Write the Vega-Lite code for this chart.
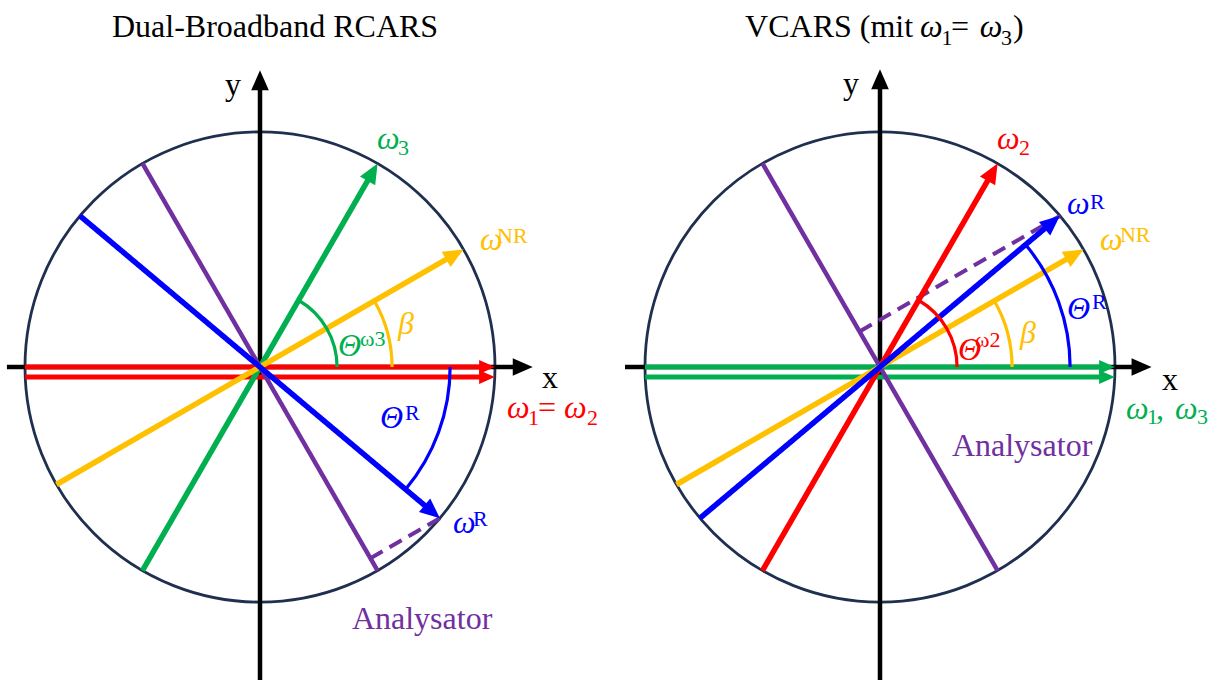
{
  "$schema": "https://vega.github.io/schema/vega-lite/v6.json",
  "padding": 0,
  "background": "white",
  "config": {"view": {"stroke": null}},
  "spacing": 26,
  "bounds": "flush",
  "data": {"values": [
    {"panel":"Dual-Broadband RCARS","kind":"arc","series":"Kreis","x":0,"y":0,"r":1,"a0":0,"a1":360},
    {"panel":"Dual-Broadband RCARS","kind":"arc","series":"ω3","x":0,"y":0,"r":0.328,"a0":0,"a1":60},
    {"panel":"Dual-Broadband RCARS","kind":"arc","series":"ωNR","x":0,"y":0,"r":0.562,"a0":0,"a1":30},
    {"panel":"Dual-Broadband RCARS","kind":"arc","series":"ωR","x":0,"y":0,"r":0.809,"a0":-40,"a1":0},
    {"panel":"VCARS (mit ω₁= ω₃)","kind":"arc","series":"Kreis","x":0,"y":0,"r":1,"a0":0,"a1":360},
    {"panel":"VCARS (mit ω₁= ω₃)","kind":"arc","series":"ω2","x":0,"y":0,"r":0.328,"a0":0,"a1":60},
    {"panel":"VCARS (mit ω₁= ω₃)","kind":"arc","series":"ωNR","x":0,"y":0,"r":0.562,"a0":0,"a1":30},
    {"panel":"VCARS (mit ω₁= ω₃)","kind":"arc","series":"ωR","x":0,"y":0,"r":0.809,"a0":0,"a1":40},

    {"panel":"Dual-Broadband RCARS","kind":"axis","series":"Achse","x":-1.077,"y":0,"x2":1.118,"y2":0,"dir":0},
    {"panel":"Dual-Broadband RCARS","kind":"axis","series":"Achse","x":0,"y":-1.4,"x2":0,"y2":1.22,"dir":90},
    {"panel":"Dual-Broadband RCARS","kind":"dash","series":"Analysator","x":0.47,"y":-0.814,"x2":0.766,"y2":-0.643},
    {"panel":"Dual-Broadband RCARS","kind":"vecp","series":"ω1= ω2","x":-1,"y":0,"x2":0.966,"y2":0,"dir":0},
    {"panel":"Dual-Broadband RCARS","kind":"vecp","series":"ω1= ω2","x":-0.999,"y":-0.043,"x2":0.966,"y2":-0.043,"dir":0},
    {"panel":"Dual-Broadband RCARS","kind":"vec","series":"ω3","x":-0.5,"y":-0.866,"x2":0.479,"y2":0.829,"dir":60},
    {"panel":"Dual-Broadband RCARS","kind":"vec","series":"ωNR","x":-0.866,"y":-0.5,"x2":0.829,"y2":0.479,"dir":30},
    {"panel":"Dual-Broadband RCARS","kind":"ana","series":"Analysator","x":-0.5,"y":0.866,"x2":0.5,"y2":-0.866},
    {"panel":"Dual-Broadband RCARS","kind":"vec","series":"ωR","x":-0.766,"y":0.643,"x2":0.733,"y2":-0.616,"dir":-40},

    {"panel":"VCARS (mit ω₁= ω₃)","kind":"axis","series":"Achse","x":-1.085,"y":0,"x2":1.113,"y2":0,"dir":0},
    {"panel":"VCARS (mit ω₁= ω₃)","kind":"axis","series":"Achse","x":0,"y":-1.4,"x2":0,"y2":1.224,"dir":90},
    {"panel":"VCARS (mit ω₁= ω₃)","kind":"dash","series":"Analysator","x":-0.087,"y":0.151,"x2":0.766,"y2":0.643},
    {"panel":"VCARS (mit ω₁= ω₃)","kind":"vecp","series":"ω1, ω3","x":-1,"y":0,"x2":0.966,"y2":0,"dir":0},
    {"panel":"VCARS (mit ω₁= ω₃)","kind":"vecp","series":"ω1, ω3","x":-0.999,"y":-0.043,"x2":0.966,"y2":-0.043,"dir":0},
    {"panel":"VCARS (mit ω₁= ω₃)","kind":"vec","series":"ω2","x":-0.5,"y":-0.866,"x2":0.479,"y2":0.829,"dir":60},
    {"panel":"VCARS (mit ω₁= ω₃)","kind":"ana","series":"Analysator","x":-0.5,"y":0.866,"x2":0.5,"y2":-0.866},
    {"panel":"VCARS (mit ω₁= ω₃)","kind":"vec","series":"ωNR","x":-0.866,"y":-0.5,"x2":0.829,"y2":0.479,"dir":30},
    {"panel":"VCARS (mit ω₁= ω₃)","kind":"vec","series":"ωR","x":-0.766,"y":-0.643,"x2":0.733,"y2":0.616,"dir":40},

    {"panel":"Dual-Broadband RCARS","kind":"up","series":"Titel","txt":"Dual-Broadband RCARS","x":-0.63,"y":1.404},
    {"panel":"Dual-Broadband RCARS","kind":"it","series":"ω3","txt":"ω","x":0.498,"y":0.928},
    {"panel":"Dual-Broadband RCARS","kind":"sm","series":"ω3","txt":"3","x":0.587,"y":0.902},
    {"panel":"Dual-Broadband RCARS","kind":"it","series":"ωNR","txt":"ω","x":0.936,"y":0.498},
    {"panel":"Dual-Broadband RCARS","kind":"sm","series":"ωNR","txt":"NR","x":1.009,"y":0.528},
    {"panel":"Dual-Broadband RCARS","kind":"it","series":"ω3","txt":"Θ","x":0.332,"y":0.047},
    {"panel":"Dual-Broadband RCARS","kind":"sm","series":"ω3","txt":"ω3","x":0.426,"y":0.089},
    {"panel":"Dual-Broadband RCARS","kind":"it","series":"ωNR","txt":"β","x":0.587,"y":0.14},
    {"panel":"Dual-Broadband RCARS","kind":"it","series":"ωR","txt":"Θ","x":0.511,"y":-0.26},
    {"panel":"Dual-Broadband RCARS","kind":"sm","series":"ωR","txt":"R","x":0.617,"y":-0.226},
    {"panel":"Dual-Broadband RCARS","kind":"it","series":"ω1= ω2","txt":"ω","x":1.051,"y":-0.217},
    {"panel":"Dual-Broadband RCARS","kind":"sm","series":"ω1= ω2","txt":"1","x":1.14,"y":-0.247},
    {"panel":"Dual-Broadband RCARS","kind":"up","series":"ω1= ω2","txt":"=","x":1.183,"y":-0.217},
    {"panel":"Dual-Broadband RCARS","kind":"it","series":"ω1= ω2","txt":"ω","x":1.294,"y":-0.217},
    {"panel":"Dual-Broadband RCARS","kind":"sm","series":"ω1= ω2","txt":"2","x":1.391,"y":-0.247},
    {"panel":"Dual-Broadband RCARS","kind":"it","series":"ωR","txt":"ω","x":0.821,"y":-0.706},
    {"panel":"Dual-Broadband RCARS","kind":"sm","series":"ωR","txt":"R","x":0.906,"y":-0.677},
    {"panel":"Dual-Broadband RCARS","kind":"up","series":"Analysator","txt":"Analysator","x":0.391,"y":-1.115},
    {"panel":"Dual-Broadband RCARS","kind":"up","series":"Achse","txt":"x","x":1.2,"y":-0.089},
    {"panel":"Dual-Broadband RCARS","kind":"up","series":"Achse","txt":"y","x":-0.149,"y":1.157},

    {"panel":"VCARS (mit ω₁= ω₃)","kind":"up","series":"Titel","txt":"VCARS (mit","x":-0.574,"y":1.404},
    {"panel":"VCARS (mit ω₁= ω₃)","kind":"it","series":"Titel","txt":"ω","x":0.17,"y":1.404},
    {"panel":"VCARS (mit ω₁= ω₃)","kind":"sm","series":"Titel","txt":"1","x":0.262,"y":1.37},
    {"panel":"VCARS (mit ω₁= ω₃)","kind":"up","series":"Titel","txt":"=","x":0.302,"y":1.404},
    {"panel":"VCARS (mit ω₁= ω₃)","kind":"it","series":"Titel","txt":"ω","x":0.425,"y":1.404},
    {"panel":"VCARS (mit ω₁= ω₃)","kind":"sm","series":"Titel","txt":"3","x":0.515,"y":1.37},
    {"panel":"VCARS (mit ω₁= ω₃)","kind":"up","series":"Titel","txt":")","x":0.566,"y":1.404},
    {"panel":"VCARS (mit ω₁= ω₃)","kind":"it","series":"ω2","txt":"ω","x":0.498,"y":0.928},
    {"panel":"VCARS (mit ω₁= ω₃)","kind":"sm","series":"ω2","txt":"2","x":0.591,"y":0.902},
    {"panel":"VCARS (mit ω₁= ω₃)","kind":"it","series":"ωR","txt":"ω","x":0.796,"y":0.651},
    {"panel":"VCARS (mit ω₁= ω₃)","kind":"sm","series":"ωR","txt":"R","x":0.894,"y":0.672},
    {"panel":"VCARS (mit ω₁= ω₃)","kind":"it","series":"ωNR","txt":"ω","x":0.936,"y":0.498},
    {"panel":"VCARS (mit ω₁= ω₃)","kind":"sm","series":"ωNR","txt":"NR","x":1.021,"y":0.532},
    {"panel":"VCARS (mit ω₁= ω₃)","kind":"it","series":"ωR","txt":"Θ","x":0.796,"y":0.204},
    {"panel":"VCARS (mit ω₁= ω₃)","kind":"sm","series":"ωR","txt":"R","x":0.902,"y":0.247},
    {"panel":"VCARS (mit ω₁= ω₃)","kind":"it","series":"ωNR","txt":"β","x":0.596,"y":0.102},
    {"panel":"VCARS (mit ω₁= ω₃)","kind":"it","series":"ω2","txt":"Θ","x":0.332,"y":0.03},
    {"panel":"VCARS (mit ω₁= ω₃)","kind":"sm","series":"ω2","txt":"ω2","x":0.404,"y":0.085},
    {"panel":"VCARS (mit ω₁= ω₃)","kind":"up","series":"Analysator","txt":"Analysator","x":0.306,"y":-0.379},
    {"panel":"VCARS (mit ω₁= ω₃)","kind":"it","series":"ω1, ω3","txt":"ω","x":1.047,"y":-0.221},
    {"panel":"VCARS (mit ω₁= ω₃)","kind":"sm","series":"ω1, ω3","txt":"1","x":1.136,"y":-0.241},
    {"panel":"VCARS (mit ω₁= ω₃)","kind":"up","series":"ω1, ω3","txt":",","x":1.174,"y":-0.221},
    {"panel":"VCARS (mit ω₁= ω₃)","kind":"it","series":"ω1, ω3","txt":"ω","x":1.255,"y":-0.221},
    {"panel":"VCARS (mit ω₁= ω₃)","kind":"sm","series":"ω1, ω3","txt":"3","x":1.349,"y":-0.241},
    {"panel":"VCARS (mit ω₁= ω₃)","kind":"up","series":"Achse","txt":"x","x":1.2,"y":-0.098},
    {"panel":"VCARS (mit ω₁= ω₃)","kind":"up","series":"Achse","txt":"y","x":-0.157,"y":1.162}
  ]},
  "facet": {
    "column": {
      "field": "panel", "type": "nominal", "sort": ["Dual-Broadband RCARS", "VCARS (mit ω₁= ω₃)"],
      "header": {"title": null, "labels": false}
    }
  },
  "spec": {
    "width": 594,
    "height": 680,
    "layer": [
      {
        "transform": [{"filter": "datum.kind == 'arc' && datum.series == 'Kreis'"}],
        "mark": {"type": "arc", "filled": false, "strokeWidth": 2.8},
        "encoding": {
          "x": {"field": "x", "type": "quantitative", "scale": {"domain": [-1.1064, 1.4213], "nice": false, "zero": false}, "axis": null},
          "y": {"field": "y", "type": "quantitative", "scale": {"domain": [-1.3319, 1.5617], "nice": false, "zero": false}, "axis": null},
          "theta": {"field": "a0", "type": "quantitative", "stack": null, "scale": {"domain": [0, 90], "range": [1.5707963, 0], "zero": false, "nice": false}},
          "theta2": {"field": "a1"},
          "radius": {"field": "r", "type": "quantitative", "scale": {"type": "linear", "domain": [0, 1], "range": [0, 235], "zero": true, "nice": false}},
          "radius2": {"field": "r"},
          "stroke": {"field": "series", "type": "nominal", "legend": null, "scale": {"domain": ["ω1= ω2", "ω2", "ω1, ω3", "ω3", "ωNR", "ωR", "Analysator", "Achse", "Kreis", "Titel"], "range": ["#FF0000", "#FF0000", "#00B050", "#00B050", "#FFC000", "#0000FF", "#7030A0", "#000000", "#1F2F4F", "#000000"]}}
        }
      },
      {
        "transform": [{"filter": "datum.kind == 'axis' || datum.kind == 'dash' || datum.kind == 'ana' || datum.kind == 'vec' || datum.kind == 'vecp'"}],
        "mark": {"type": "rule", "strokeCap": "butt"},
        "encoding": {
          "x": {"field": "x", "type": "quantitative", "scale": {"domain": [-1.1064, 1.4213], "nice": false, "zero": false}, "axis": null},
          "y": {"field": "y", "type": "quantitative", "scale": {"domain": [-1.3319, 1.5617], "nice": false, "zero": false}, "axis": null},
          "x2": {"field": "x2"},
          "y2": {"field": "y2"},
          "strokeWidth": {"field": "kind", "type": "nominal", "legend": null, "scale": {"type": "ordinal", "domain": ["axis", "dash", "ana", "vec", "vecp"], "range": [4.5, 4, 4.5, 5.5, 5]}},
          "strokeDash": {"field": "kind", "type": "nominal", "legend": null, "scale": {"type": "ordinal", "domain": ["axis", "dash", "ana", "vec", "vecp"], "range": [[1, 0], [14, 8], [1, 0], [1, 0], [1, 0]]}},
          "color": {"field": "series", "type": "nominal", "legend": null, "scale": {"domain": ["ω1= ω2", "ω2", "ω1, ω3", "ω3", "ωNR", "ωR", "Analysator", "Achse", "Kreis", "Titel"], "range": ["#FF0000", "#FF0000", "#00B050", "#00B050", "#FFC000", "#0000FF", "#7030A0", "#000000", "#1F2F4F", "#000000"]}}
        }
      },
      {
        "transform": [{"filter": "datum.kind == 'axis' || datum.kind == 'vec' || datum.kind == 'vecp'"}],
        "mark": {"type": "point", "shape": "M0,-0.5L0.44,0.5L-0.44,0.5Z", "filled": true, "opacity": 1, "strokeWidth": 0},
        "encoding": {
          "x": {"field": "x2", "type": "quantitative", "scale": {"domain": [-1.1064, 1.4213], "nice": false, "zero": false}, "axis": null},
          "y": {"field": "y2", "type": "quantitative", "scale": {"domain": [-1.3319, 1.5617], "nice": false, "zero": false}, "axis": null},
          "angle": {"field": "dir", "type": "quantitative", "scale": {"domain": [0, 90], "range": [90, 0], "zero": false, "nice": false}},
          "size": {"field": "kind", "type": "nominal", "legend": null, "scale": {"type": "ordinal", "domain": ["axis", "vec", "vecp"], "range": [1600, 1600, 1000]}},
          "color": {"field": "series", "type": "nominal", "legend": null, "scale": {"domain": ["ω1= ω2", "ω2", "ω1, ω3", "ω3", "ωNR", "ωR", "Analysator", "Achse", "Kreis", "Titel"], "range": ["#FF0000", "#FF0000", "#00B050", "#00B050", "#FFC000", "#0000FF", "#7030A0", "#000000", "#1F2F4F", "#000000"]}}
        }
      },
      {
        "transform": [{"filter": "datum.kind == 'arc' && datum.series != 'Kreis'"}],
        "mark": {"type": "arc", "filled": false, "strokeWidth": 3.2},
        "encoding": {
          "x": {"field": "x", "type": "quantitative", "scale": {"domain": [-1.1064, 1.4213], "nice": false, "zero": false}, "axis": null},
          "y": {"field": "y", "type": "quantitative", "scale": {"domain": [-1.3319, 1.5617], "nice": false, "zero": false}, "axis": null},
          "theta": {"field": "a0", "type": "quantitative", "stack": null, "scale": {"domain": [0, 90], "range": [1.5707963, 0], "zero": false, "nice": false}},
          "theta2": {"field": "a1"},
          "radius": {"field": "r", "type": "quantitative", "scale": {"type": "linear", "domain": [0, 1], "range": [0, 235], "zero": true, "nice": false}},
          "radius2": {"field": "r"},
          "stroke": {"field": "series", "type": "nominal", "legend": null, "scale": {"domain": ["ω1= ω2", "ω2", "ω1, ω3", "ω3", "ωNR", "ωR", "Analysator", "Achse", "Kreis", "Titel"], "range": ["#FF0000", "#FF0000", "#00B050", "#00B050", "#FFC000", "#0000FF", "#7030A0", "#000000", "#1F2F4F", "#000000"]}}
        }
      },
      {
        "transform": [{"filter": "datum.kind == 'it'"}],
        "mark": {"type": "text", "align": "left", "baseline": "alphabetic", "font": "Liberation Serif", "fontSize": 32, "fontStyle": "italic"},
        "encoding": {
          "x": {"field": "x", "type": "quantitative", "scale": {"domain": [-1.1064, 1.4213], "nice": false, "zero": false}, "axis": null},
          "y": {"field": "y", "type": "quantitative", "scale": {"domain": [-1.3319, 1.5617], "nice": false, "zero": false}, "axis": null},
          "text": {"field": "txt"},
          "color": {"field": "series", "type": "nominal", "legend": null, "scale": {"domain": ["ω1= ω2", "ω2", "ω1, ω3", "ω3", "ωNR", "ωR", "Analysator", "Achse", "Kreis", "Titel"], "range": ["#FF0000", "#FF0000", "#00B050", "#00B050", "#FFC000", "#0000FF", "#7030A0", "#000000", "#1F2F4F", "#000000"]}}
        }
      },
      {
        "transform": [{"filter": "datum.kind == 'up'"}],
        "mark": {"type": "text", "align": "left", "baseline": "alphabetic", "font": "Liberation Serif", "fontSize": 32},
        "encoding": {
          "x": {"field": "x", "type": "quantitative", "scale": {"domain": [-1.1064, 1.4213], "nice": false, "zero": false}, "axis": null},
          "y": {"field": "y", "type": "quantitative", "scale": {"domain": [-1.3319, 1.5617], "nice": false, "zero": false}, "axis": null},
          "text": {"field": "txt"},
          "color": {"field": "series", "type": "nominal", "legend": null, "scale": {"domain": ["ω1= ω2", "ω2", "ω1, ω3", "ω3", "ωNR", "ωR", "Analysator", "Achse", "Kreis", "Titel"], "range": ["#FF0000", "#FF0000", "#00B050", "#00B050", "#FFC000", "#0000FF", "#7030A0", "#000000", "#1F2F4F", "#000000"]}}
        }
      },
      {
        "transform": [{"filter": "datum.kind == 'sm'"}],
        "mark": {"type": "text", "align": "left", "baseline": "alphabetic", "font": "Liberation Serif", "fontSize": 22},
        "encoding": {
          "x": {"field": "x", "type": "quantitative", "scale": {"domain": [-1.1064, 1.4213], "nice": false, "zero": false}, "axis": null},
          "y": {"field": "y", "type": "quantitative", "scale": {"domain": [-1.3319, 1.5617], "nice": false, "zero": false}, "axis": null},
          "text": {"field": "txt"},
          "color": {"field": "series", "type": "nominal", "legend": null, "scale": {"domain": ["ω1= ω2", "ω2", "ω1, ω3", "ω3", "ωNR", "ωR", "Analysator", "Achse", "Kreis", "Titel"], "range": ["#FF0000", "#FF0000", "#00B050", "#00B050", "#FFC000", "#0000FF", "#7030A0", "#000000", "#1F2F4F", "#000000"]}}
        }
      }
    ]
  }
}
